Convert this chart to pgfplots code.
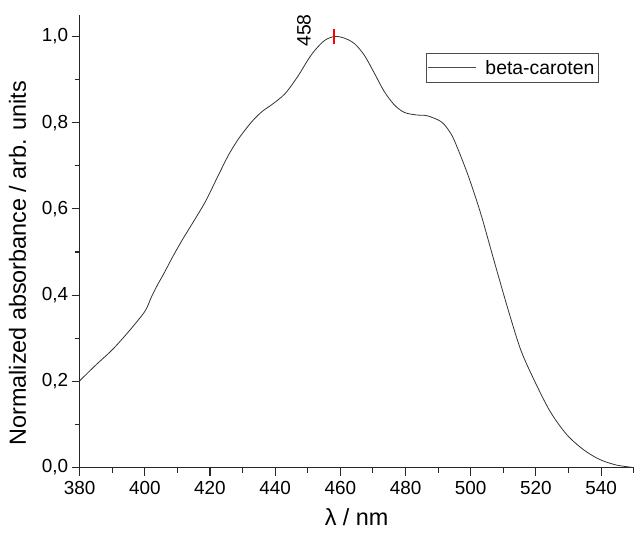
\documentclass[border=0pt]{standalone}
\usepackage{pgfplots}
\pgfplotsset{compat=1.18}
\usepackage{fontspec}
\setmainfont{Liberation Sans}
\begin{document}
\begin{tikzpicture}
\begin{axis}[
  scale only axis,
  width=557pt, height=455pt,
  xmin=380, xmax=550, ymin=0, ymax=1.05,
  axis lines*=left,
  xtick pos=bottom, ytick pos=left,
  axis line style={line width=1.3pt, black!85},
  tick style={line width=1.1pt, black!85},
  tick align=outside,
  major tick length=8pt,
  xtick={380,400,...,540}, ytick={0,0.2,...,1.0},
  extra x ticks={390,410,...,550}, extra x tick labels={},
  extra x tick style={major tick length=5pt},
  extra y ticks={0.1,0.3,...,0.95}, extra y tick labels={},
  extra y tick style={major tick length=5pt},
  /pgf/number format/assume math mode=true,
  xticklabel style={/pgf/number format/1000 sep={}, font=\fontsize{19}{22}\selectfont, yshift=-2pt},
  yticklabel style={/pgf/number format/.cd, use comma, fixed, fixed zerofill, precision=1, /tikz/.cd, font=\fontsize{19}{22}\selectfont},
  xlabel={λ / nm},
  ylabel={Normalized absorbance / arb. units},
  label style={font=\fontsize{23.5}{27}\selectfont},
  xlabel style={at={(axis description cs:0.5,0)}, anchor=north, yshift=-38pt},
  ylabel style={xshift=-22pt, yshift=-4pt},
  legend style={at={(0.937,0.9165)}, anchor=north east, draw=black!70, line width=0.8pt,
    font=\fontsize{19.5}{23}\selectfont, inner xsep=2pt, inner ysep=5pt},
  legend cell align=left,
  legend image code/.code={\draw[black!70, line width=0.8pt] (0pt,0pt) -- (48pt,0pt); \path (55pt,0pt);},
  clip=false,
]
\addplot[black!80, line width=0.8pt, smooth] coordinates {
(380,0.201) (385,0.238) (390,0.273) (395,0.315) (400,0.362) (402,0.395)
(404,0.425) (406,0.452) (408.5,0.488) (411.5,0.528) (414.5,0.565) (418.6,0.617)
(422.7,0.680) (425.7,0.725) (428.8,0.763) (432.8,0.802) (436,0.826) (439,0.842)
(443,0.867) (447,0.908) (450,0.945) (452.2,0.968) (455.2,0.991) (458.3,1.0)
(461.3,0.996) (464.4,0.983) (467.4,0.956) (470.5,0.914) (473.5,0.872) (476.6,0.841)
(479.6,0.824) (483.2,0.818) (486.7,0.816) (490.8,0.803) (493,0.785) (494.9,0.760)
(498.9,0.684) (503.0,0.591) (507.0,0.484) (511.1,0.376) (515.2,0.276) (519.2,0.207)
(524.3,0.131) (529.4,0.077) (534.5,0.042) (539.5,0.019) (544.6,0.006) (550,0.0)
};
\addlegendentry{beta-caroten}
\addplot[red, only marks, mark=|, mark size=8pt, mark options={solid, red, line width=1.5pt}, forget plot] coordinates {(458,1.0)};
\node[rotate=90, font=\fontsize{19.5}{23}\selectfont] at ([xshift=-30pt, yshift=6pt]axis cs:458,1.0) {458};
\end{axis}
\path ([xshift=-80pt,yshift=-69pt]current axis.south west) rectangle ([yshift=15pt]current axis.north east);
\end{tikzpicture}
\end{document}
